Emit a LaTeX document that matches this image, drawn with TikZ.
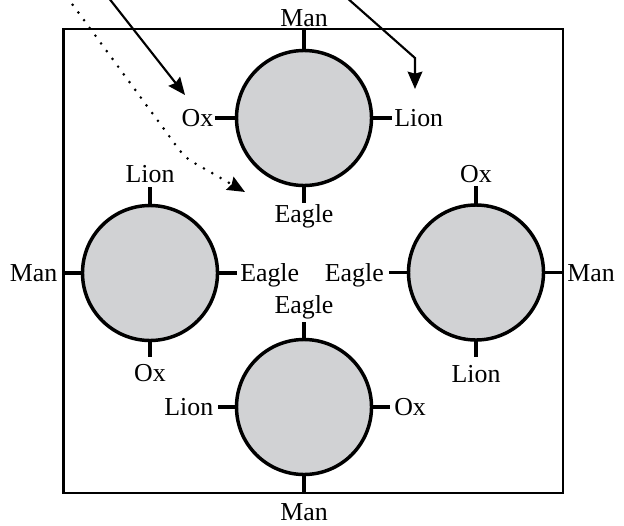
\documentclass[tikz,border=0pt]{standalone}
\usepackage{fontspec}
\setmainfont{Liberation Serif}
\usetikzlibrary{arrows.meta}
\definecolor{discgray}{RGB}{209,210,212}
\tikzset{
  disc/.style={circle, draw=black, line width=2.6pt, fill=discgray, minimum size=101.25pt, inner sep=0pt, outer sep=0pt},
  stub/.style={line width=2.6pt},
  frame/.style={draw=black, line width=1.6pt, minimum width=374.4pt, minimum height=348pt, inner sep=0pt, outer sep=0pt},
  lbl/.style={font=\fontsize{19.4}{22}\selectfont, inner sep=0pt, text height=12.85pt, text depth=0pt},
  arr/.style={line width=1.6pt, -{Stealth[length=13pt,width=11pt,inset=1.5pt]}},
  dotarr/.style={line width=2.2pt, line cap=round, dash pattern=on 0pt off 7.2pt, -{Stealth[length=13pt,width=11pt,inset=1.5pt]}}
}
\begin{document}
\begin{tikzpicture}[x=0.75pt, y=-0.75pt]
\useasboundingbox (0,0) rectangle (624,525);
\node[frame] (fr) at (313.1,261) {};
% circles
\node[disc] (T) at (304,118) {};
\node[disc] (L) at (150,273) {};
\node[disc] (R) at (476,272.5) {};
\node[disc] (B) at (304,407) {};
% stub ends
\coordinate (Tn) at (T.north |- fr.north);
\coordinate (Tw) at (215,118);
\coordinate (Te) at (392,118);
\coordinate (Ts) at (304,203);
\coordinate (Ln) at (150,187);
\coordinate (Lw) at (L.west -| fr.west);
\coordinate (Le) at (237,273);
\coordinate (Ls) at (150,357);
\coordinate (Rn) at (476,186);
\coordinate (Rw) at (389,272.5);
\coordinate (Re) at (R.east -| fr.east);
\coordinate (Rs) at (476,357);
\coordinate (Bn) at (304,321.7);
\coordinate (Bw) at (218,407);
\coordinate (Be) at (390,407);
\coordinate (Bs) at (B.south |- fr.south);
\foreach \c/\a/\e in {T/north/n,T/west/w,T/east/e,T/south/s,L/north/n,L/west/w,L/east/e,L/south/s,R/north/n,R/west/w,R/east/e,R/south/s,B/north/n,B/west/w,B/east/e,B/south/s}{
  \draw[stub] (\c.\a) -- (\c\e);
}
% labels
\node[lbl, anchor=south] (tMan) at (304,27) {Man};
\node[lbl, anchor=east] (tOx) at (213.5,118) {Ox};
\node[lbl, anchor=west] (tLion) at (394,118) {Lion};
\node[lbl, anchor=north] (tEagle) at (304,205) {Eagle};
\node[lbl, anchor=south] (lLion) at (150,183) {Lion};
\node[lbl, anchor=east] (lMan) at (57.5,273) {Man};
\node[lbl, anchor=west] (lEagle) at (240,273) {Eagle};
\node[lbl, anchor=north] (lOx) at (150,364) {Ox};
\node[lbl, anchor=south] (rOx) at (476,182.5) {Ox};
\node[lbl, anchor=east] (rEagle) at (384,272.5) {Eagle};
\node[lbl, anchor=west] (rMan) at (567,272.5) {Man};
\node[lbl, anchor=north] (rLion) at (476,365) {Lion};
\node[lbl, anchor=south] (bEagle) at (304,314) {Eagle};
\node[lbl, anchor=east] (bLion) at (213.5,407) {Lion};
\node[lbl, anchor=west] (bOx) at (394,407) {Ox};
\node[lbl, anchor=north] (bMan) at (304,503) {Man};
% arrows
\coordinate (a1s) at (108,-3);
\coordinate (a1e) at (185,95);
\coordinate (a2s) at (346,-3);
\coordinate (a2k) at (415,58);
\coordinate (a2e) at (415,89);
\coordinate (a3s) at (67,-3);
\coordinate (a3k) at (172,140);
\coordinate (a3e) at (245,192);
\draw[arr] (a1s) -- (a1e);
\draw[arr] (a2s) -- (a2k) -- (a2e);
\draw[dotarr] (a3s) -- (a3k) .. controls (185,158) .. (205,169) -- (a3e);
\end{tikzpicture}
\end{document}
